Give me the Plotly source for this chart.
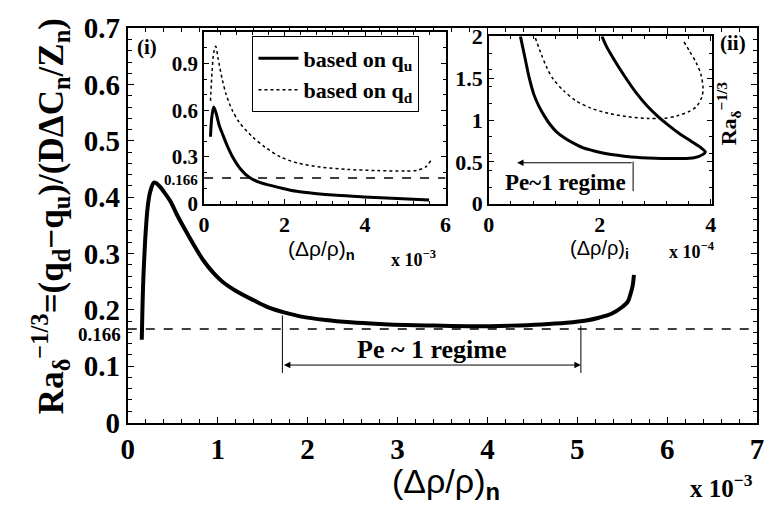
import plotly.graph_objects as go

# ---------------- data ----------------
main_x = [0.156, 0.17, 0.186, 0.2, 0.222, 0.25, 0.295, 0.35, 0.4, 0.477, 0.55, 0.66, 0.75, 0.84,
          0.95, 1.06, 1.2, 1.4, 1.57, 1.75, 1.93, 2.2, 2.48, 2.8, 3.1, 3.4, 3.8, 4.26, 4.6, 4.88,
          5.1, 5.24, 5.38, 5.5, 5.56, 5.59, 5.615, 5.63]
main_y = [0.147, 0.24, 0.30, 0.34, 0.383, 0.41, 0.426, 0.42, 0.41, 0.392, 0.368, 0.336, 0.311, 0.288,
          0.266, 0.249, 0.234, 0.217, 0.204, 0.195, 0.188, 0.182, 0.178, 0.175, 0.173, 0.172, 0.171,
          0.172, 0.174, 0.177, 0.181, 0.186, 0.193, 0.205, 0.214, 0.227, 0.242, 0.262]

i_qu_x = [0.16, 0.19, 0.24, 0.3, 0.38, 0.47, 0.58, 0.71, 0.9, 1.12, 1.4, 1.93, 2.3, 2.75, 3.3, 3.97, 4.8, 5.59]
i_qu_y = [0.43, 0.55, 0.62, 0.58, 0.50, 0.44, 0.37, 0.30, 0.225, 0.17, 0.135, 0.10, 0.08, 0.066, 0.054, 0.044, 0.033, 0.024]
i_qd_x = [0.16, 0.2, 0.24, 0.29, 0.35, 0.45, 0.55, 0.7, 0.88, 1.2, 1.53, 1.9, 2.34, 2.9, 3.56, 4.3, 5.0, 5.3, 5.5, 5.63]
i_qd_y = [0.66, 0.85, 0.97, 1.01, 0.93, 0.80, 0.70, 0.60, 0.52, 0.43, 0.36, 0.30, 0.26, 0.235, 0.22, 0.213, 0.21, 0.215, 0.235, 0.276]

ii_qu_x = [0.57, 0.65, 0.73, 0.81, 0.9, 1.0, 1.1, 1.22, 1.38, 1.55, 1.69, 1.9, 2.1, 2.57, 3.0, 3.45, 3.7,
           3.86, 3.9, 3.82, 3.65, 3.45, 3.25, 3.05, 2.85, 2.65, 2.45, 2.25, 2.12, 2.04]
ii_qu_y = [2.0, 1.75, 1.5, 1.31, 1.17, 1.05, 0.95, 0.86, 0.78, 0.715, 0.67, 0.63, 0.6, 0.56, 0.545, 0.54, 0.55,
           0.59, 0.62, 0.67, 0.745, 0.83, 0.93, 1.04, 1.17, 1.33, 1.52, 1.73, 1.88, 2.0]
ii_qd_x = [0.84, 0.95, 1.05, 1.16, 1.35, 1.57, 1.85, 2.16, 2.5, 2.86, 3.15, 3.39, 3.6, 3.74, 3.84, 3.86,
           3.82, 3.74, 3.62, 3.51]
ii_qd_y = [1.98, 1.78, 1.62, 1.49, 1.35, 1.23, 1.14, 1.08, 1.04, 1.02, 1.02, 1.05, 1.1, 1.16, 1.28, 1.38,
           1.55, 1.68, 1.82, 1.94]

main_xticks = [0, 1, 2, 3, 4, 5, 6, 7]
main_xticktext = ["0", "1", "2", "3", "4", "5", "6", "7"]
main_yticks = [0, 0.1, 0.2, 0.3, 0.4, 0.5, 0.6, 0.7]
main_yticktext = ["0", "0.1", "0.2", "0.3", "0.4", "0.5", "0.6", "0.7"]
i_xticks = [0, 2, 4, 6]
i_xticktext = ["0", "2", "4", "6"]
i_yticks = [0, 0.3, 0.6, 0.9]
i_yticktext = ["0", "0.3", "0.6", "0.9"]
ii_xticks = [0, 2, 4]
ii_xticktext = ["0", "2", "4"]
ii_yticks = [0, 0.5, 1, 1.5, 2]
ii_yticktext = ["0", "0.5", "1", "1.5", "2"]

ref_level = 0.166
regime_main = [1.72, 5.04]
regime_ii_x = 2.6

SERIF = "Liberation Serif"
SANS = "Liberation Sans"

def bold(lst):
    return ["<b>%s</b>" % s for s in lst]

fig = go.Figure()

fig.add_trace(go.Scatter(x=main_x, y=main_y, mode="lines", line=dict(color="black", width=4, shape="spline", smoothing=1.0),
                         showlegend=False, xaxis="x", yaxis="y"))
fig.add_trace(go.Scatter(x=i_qu_x, y=i_qu_y, mode="lines", line=dict(color="black", width=3, shape="spline", smoothing=0.8),
                         name="<b>based on q<sub>u</sub></b>", xaxis="x2", yaxis="y2"))
fig.add_trace(go.Scatter(x=i_qd_x, y=i_qd_y, mode="lines", line=dict(color="black", width=1.5, dash="dot", shape="spline", smoothing=0.8),
                         name="<b>based on q<sub>d</sub></b>", xaxis="x2", yaxis="y2"))
fig.add_trace(go.Scatter(x=ii_qu_x, y=ii_qu_y, mode="lines", line=dict(color="black", width=3, shape="spline", smoothing=0.8),
                         showlegend=False, xaxis="x3", yaxis="y3"))
fig.add_trace(go.Scatter(x=ii_qd_x, y=ii_qd_y, mode="lines", line=dict(color="black", width=1.5, dash="dot", shape="spline", smoothing=0.8),
                         showlegend=False, xaxis="x3", yaxis="y3"))

def axis_common(lw, tl, ml, fs):
    return dict(showline=True, linecolor="black", linewidth=lw, mirror="ticks", ticks="inside",
                ticklen=tl, tickwidth=1, tickcolor="black", showgrid=False, zeroline=False,
                tickfont=dict(family=SERIF, size=fs, color="black"),
                minor=dict(ticks="inside", ticklen=ml, tickcolor="black", showgrid=False))

W, H = 770, 523
def px_x(p):
    return p / W
def px_y(p):
    return 1 - p / H

xa = axis_common(2, 6, 4, 29)
xa.update(domain=[px_x(123), px_x(764)], range=[0, 7], tickvals=main_xticks, ticktext=bold(main_xticktext), anchor="y")
xa["minor"].update(dtick=0.2)
ya = axis_common(2, 6, 4, 29)
ya.update(domain=[px_y(433), px_y(13)], range=[0, 0.7], tickvals=main_yticks, ticktext=bold(main_yticktext), anchor="x")
ya["minor"].update(dtick=0.02)

x2 = axis_common(1.5, 5, 3, 22)
x2.update(domain=[px_x(200.7), px_x(446.7)], range=[0, 6], tickvals=i_xticks, ticktext=bold(i_xticktext), anchor="y2")
x2["minor"].update(dtick=0.4)
y2 = axis_common(1.5, 5, 3, 21)
y2.update(domain=[px_y(200), px_y(17.3)], range=[0, 1.1], tickvals=i_yticks, ticktext=bold(i_yticktext), anchor="x2")
y2["minor"].update(dtick=0.1)

x3 = axis_common(1.5, 5, 3, 22)
x3.update(domain=[px_x(490.7), px_x(718)], range=[0, 4.02], tickvals=ii_xticks, ticktext=bold(ii_xticktext), anchor="y3")
x3["minor"].update(dtick=0.4)
y3 = axis_common(1.5, 5, 3, 22)
y3.update(domain=[px_y(200), px_y(21.7)], range=[0, 2], tickvals=ii_yticks, ticktext=bold(ii_yticktext), anchor="x3")
y3["minor"].update(dtick=0.2)

shapes = [
    dict(type="line", xref="x", yref="y", x0=0, x1=7, y0=ref_level, y1=ref_level,
         line=dict(color="black", width=1.5, dash="dash")),
    dict(type="line", xref="x2", yref="y2", x0=0, x1=6, y0=ref_level, y1=ref_level,
         line=dict(color="black", width=1.5, dash="dash")),
    dict(type="line", xref="x", yref="y", x0=regime_main[0], x1=regime_main[0], y0=0.088, y1=0.19,
         line=dict(color="black", width=1)),
    dict(type="line", xref="x", yref="y", x0=regime_main[1], x1=regime_main[1], y0=0.088, y1=0.172,
         line=dict(color="black", width=1)),
    dict(type="line", xref="x3", yref="y3", x0=regime_ii_x, x1=regime_ii_x, y0=0.15, y1=0.505,
         line=dict(color="black", width=1)),
]

def txt(x, y, s, size, family=SERIF, xanchor="center", yanchor="middle", angle=0):
    return dict(x=x, y=y, xref="paper", yref="paper", text=s, showarrow=False, textangle=angle,
                font=dict(family=family, size=size, color="black"), xanchor=xanchor, yanchor=yanchor)

annotations = [
    dict(x=regime_main[1], y=0.102, ax=regime_main[0], ay=0.102, xref="x", yref="y", axref="x", ayref="y",
         showarrow=True, arrowhead=2, arrowside="end+start", arrowsize=1.3, arrowwidth=1, arrowcolor="black", text=""),
    dict(x=0.51, y=0.49, ax=regime_ii_x, ay=0.49, xref="x3", yref="y3", axref="x3", ayref="y3",
         showarrow=True, arrowhead=2, arrowsize=1.3, arrowwidth=1, arrowcolor="black", text=""),
    dict(x=3.38, y=0.13, xref="x", yref="y", text="<b>Pe ~ 1 regime</b>", showarrow=False,
         font=dict(family=SERIF, size=26, color="black")),
    dict(x=1.38, y=0.26, xref="x3", yref="y3", text="<b>Pe~1 regime</b>", showarrow=False,
         font=dict(family=SERIF, size=23, color="black")),
    txt(px_x(118), px_y(339), "<b>0.166</b>", 19, xanchor="right"),
    txt(px_x(197), px_y(175), "<b>0.166</b>", 15, xanchor="right"),
    txt(px_x(143), px_y(33), "<b>(i)</b>", 21),
    txt(px_x(739), px_y(29), "<b>(ii)</b>", 21),
    txt(px_x(45), px_y(213), "<b>Ra<sub>δ</sub><sup>−1/3</sup>=(q<sub>d</sub>−q<sub>u</sub>)/(DΔC<sub>n</sub>/Z<sub>n</sub>)</b>",
        35, angle=-90),
    txt(px_x(447), px_y(498), "(Δρ/ρ)<sub><b>n</b></sub>", 34, family=SANS),
    txt(px_x(728), px_y(501), "<b>x 10<sup>−3</sup></b>", 25),
    txt(px_x(320), px_y(249), "(Δρ/ρ)<sub><b>n</b></sub>", 21, family=SANS),
    txt(px_x(414), px_y(258), "<b>x 10<sup>−3</sup></b>", 18),
    txt(px_x(603), px_y(249), "(Δρ/ρ)<sub><b>i</b></sub>", 20, family=SANS),
    txt(px_x(698), px_y(250), "<b>x 10<sup>−4</sup></b>", 18),
    txt(px_x(735), px_y(104), "<b>Ra<sub>δ</sub><sup>−1/3</sup></b>", 22, angle=-90),
]

fig.update_layout(
    width=W, height=H, margin=dict(l=0, r=0, t=0, b=0),
    paper_bgcolor="white", plot_bgcolor="white",
    font=dict(family=SERIF, color="black"),
    xaxis=xa, yaxis=ya, xaxis2=x2, yaxis2=y2, xaxis3=x3, yaxis3=y3,
    shapes=shapes, annotations=annotations,
    legend=dict(x=px_x(250), y=px_y(21.7), xanchor="left", yanchor="top",
                bordercolor="black", borderwidth=1, bgcolor="white",
                font=dict(family=SERIF, size=22, color="black"),
                tracegroupgap=0, itemwidth=40),
    showlegend=True,
)

fig.write_html("out.html")
